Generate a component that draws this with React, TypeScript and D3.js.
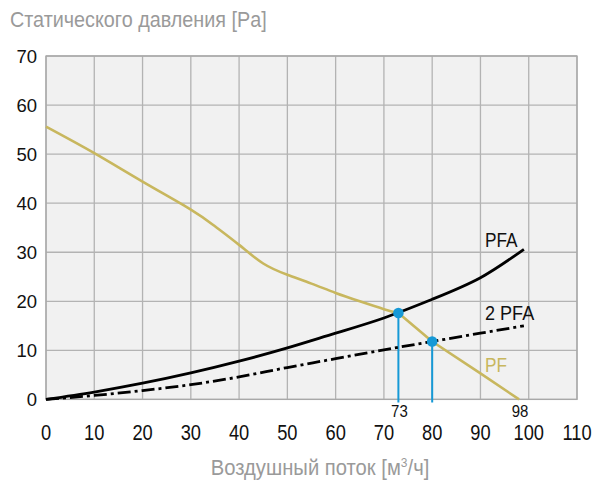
import { useEffect } from "react";
import * as d3 from "d3";

const W = 603;
const H = 485;

const xTicks = [0, 10, 20, 30, 40, 50, 60, 70, 80, 90, 100, 110];
const yTicks = [0, 10, 20, 30, 40, 50, 60, 70];

// PF curve (fan)
const pfFlow = [0, 10, 20, 30, 35, 40, 45, 50, 55, 60, 65, 70, 73, 80, 90, 98];
const pfPressure = [55.6, 50.2, 44.4, 38.7, 35.3, 31.5, 27.7, 25.4, 23.6, 21.7, 20.0, 18.4, 17.6, 11.8, 5.3, 0];

// PFA curve (one filter)
const pfaFlow = [0, 10, 20, 30, 40, 50, 60, 70, 80, 90, 99];
const pfaPressure = [0, 1.5, 3.3, 5.4, 7.8, 10.5, 13.5, 16.6, 20.4, 24.8, 30.6];

// 2 PFA curve
const pfa2Flow = [0, 10, 20, 30, 40, 50, 60, 70, 80, 90, 99];
const pfa2Pressure = [0, 0.8, 1.8, 3.0, 4.6, 6.5, 8.3, 10.1, 11.8, 13.5, 15.0];

// operating points
const opFlow = [73, 80];
const opPressure = [17.6, 11.8];

// extra flow labels under the axis
const markFlow = [73, 98];
const markLabels = ["73", "98"];

const REGULAR = "'Liberation Sans', Arial, sans-serif";
const YELLOW = "#c8b75e";
const BLUE = "#1699d6";

// condensed look: regular sans squeezed horizontally
function Narrow({ x, y, size = 21, sx = 0.8, fill = "#111", anchor = "start", children }: any) {
  return (
    <text
      transform={`translate(${x},${y}) scale(${sx},1)`}
      textAnchor={anchor}
      fontFamily={REGULAR}
      fontSize={size}
      fill={fill}
    >
      {children}
    </text>
  );
}

export default function App() {
  useEffect(() => {
    document.body.style.margin = "0";
  }, []);

  const x = d3.scaleLinear().domain([0, 110]).range([46, 577]);
  const y = d3.scaleLinear().domain([0, 70]).range([399.4, 56]);

  const toPts = (fs: number[], ps: number[]) => fs.map((f, i) => [f, ps[i]] as [number, number]);

  const smooth = d3
    .line<[number, number]>()
    .x((d) => x(d[0]))
    .y((d) => y(d[1]))
    .curve(d3.curveNatural);

  const straight = d3
    .line<[number, number]>()
    .x((d) => x(d[0]))
    .y((d) => y(d[1]));

  // PF bends at the first operating point: smooth before it, straight after
  const pfPts = toPts(pfFlow, pfPressure);
  const split = pfFlow.indexOf(opFlow[0]);
  const pfA = smooth(pfPts.slice(0, split + 1)) ?? "";
  const pfB = straight(pfPts.slice(split)) ?? "";
  const pfa = smooth(toPts(pfaFlow, pfaPressure)) ?? "";
  const pfa2 = smooth(toPts(pfa2Flow, pfa2Pressure)) ?? "";

  const [x0, x1] = x.range();
  const [y0, y1] = y.range();

  return (
    <svg width={W} height={H} style={{ display: "block" }}>
      <Narrow x={10} y={27} size={22} sx={0.9} fill="#9a9a9a">Статического давления [Pa]</Narrow>

      {/* plot area */}
      <rect x={x0} y={y1} width={x1 - x0} height={y0 - y1} fill="#f1f1f1" />
      {xTicks.map((t) => (
        <line key={"gx" + t} x1={x(t)} x2={x(t)} y1={y1} y2={y0} stroke="#b3b3b3" strokeWidth={1.3} />
      ))}
      {yTicks.map((t) => (
        <line key={"gy" + t} x1={x0} x2={x1} y1={y(t)} y2={y(t)} stroke="#b3b3b3" strokeWidth={1.3} />
      ))}
      <rect x={x0} y={y1} width={x1 - x0} height={y0 - y1} fill="none" stroke="#a8a8a8" strokeWidth={1.3} />

      {/* y tick labels */}
      {yTicks.map((t) => (
        <text key={"ty" + t} x={37} y={y(t) + 6.5} textAnchor="end" fontFamily={REGULAR} fontSize={18.5} fill="#111">
          {t}
        </text>
      ))}

      {/* x tick labels */}
      {xTicks.map((t) => (
        <Narrow key={"tx" + t} x={x(t)} y={440} size={21.5} sx={0.85} anchor="middle">{t}</Narrow>
      ))}

      {/* drop lines from operating points */}
      {opFlow.map((f, i) => (
        <line key={"dl" + f} x1={x(f)} x2={x(f)} y1={y(opPressure[i])} y2={402.5} stroke={BLUE} strokeWidth={2} />
      ))}

      {/* curves */}
      <path d={pfA} fill="none" stroke={YELLOW} strokeWidth={2.6} strokeLinejoin="round" />
      <path d={pfB} fill="none" stroke={YELLOW} strokeWidth={2.6} strokeLinejoin="round" />
      <path d={pfa2} fill="none" stroke="#000" strokeWidth={2.8} strokeDasharray="13,4,3,4" />
      <path d={pfa} fill="none" stroke="#000" strokeWidth={2.8} />

      {opFlow.map((f, i) => (
        <circle key={"op" + f} cx={x(f)} cy={y(opPressure[i])} r={5.3} fill={BLUE} />
      ))}

      {markFlow.map((f, i) => (
        <Narrow key={"mk" + f} x={x(f) + 1} y={417} size={17} sx={0.88} anchor="middle">{markLabels[i]}</Narrow>
      ))}

      {/* series labels */}
      <Narrow x={485} y={247} sx={0.82}>PFA</Narrow>
      <Narrow x={485} y={319.5} sx={0.86}>2 PFA</Narrow>
      <Narrow x={485} y={372} sx={0.82} fill={YELLOW}>PF</Narrow>

      {/* x axis title */}
      <Narrow x={320} y={475} size={22} sx={0.92} fill="#9a9a9a" anchor="middle">
        Воздушный поток [м<tspan dy={-8} fontSize={13}>3</tspan>
        <tspan dy={8}>/ч]</tspan>
      </Narrow>
    </svg>
  );
}
